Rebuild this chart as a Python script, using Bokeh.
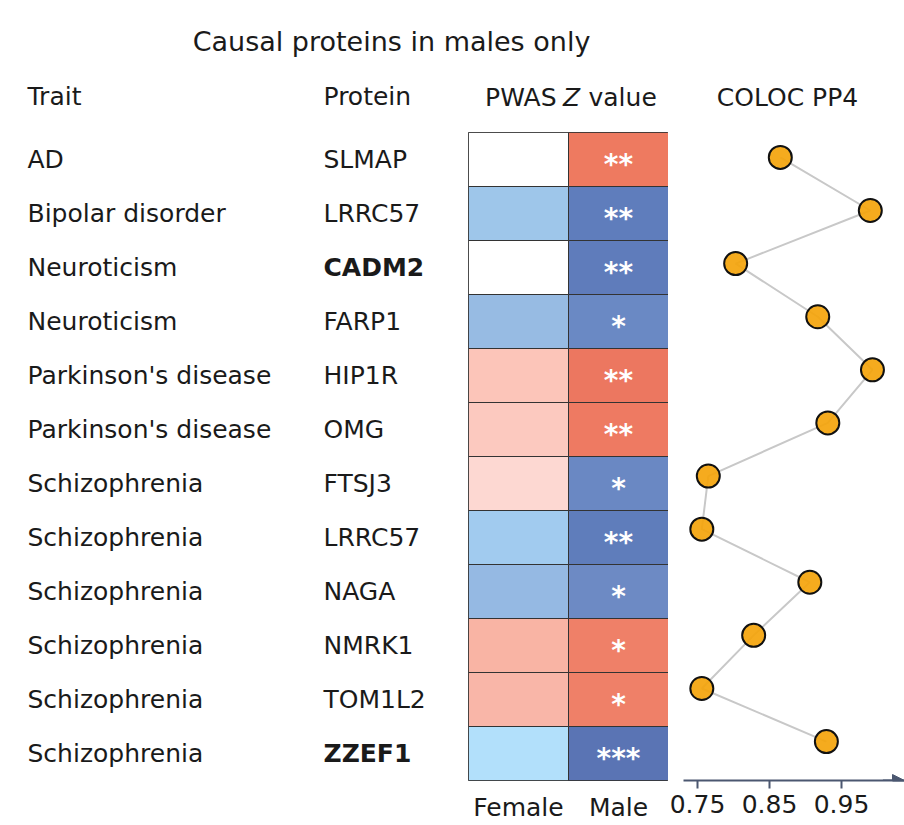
from bokeh.plotting import figure
from bokeh.layouts import row, column
from bokeh.models import ColumnDataSource, Range1d, FactorRange, FixedTicker, Arrow, NormalHead
from bokeh.core.properties import value
from bokeh.embed import file_html
from bokeh.resources import INLINE

# ---------------- data ----------------
title_text = "Causal proteins in males only"
traits = ["AD", "Bipolar disorder", "Neuroticism", "Neuroticism",
          "Parkinson's disease", "Parkinson's disease", "Schizophrenia",
          "Schizophrenia", "Schizophrenia", "Schizophrenia", "Schizophrenia",
          "Schizophrenia"]
proteins = ["SLMAP", "LRRC57", "CADM2", "FARP1", "HIP1R", "OMG", "FTSJ3",
            "LRRC57", "NAGA", "NMRK1", "TOM1L2", "ZZEF1"]
bold_proteins = ["CADM2", "ZZEF1"]
sexes = ["Female", "Male"]
female_colors = ["#ffffff", "#9ec6ea", "#ffffff", "#97bbe3", "#fcc5b9",
                 "#fcc9bf", "#fdd8d2", "#a1cbef", "#95b9e3", "#f9b4a4",
                 "#f9b6a8", "#b2e0fb"]
male_colors = ["#ee7a60", "#5f7dbc", "#5f7cbb", "#6a89c4", "#ec7760",
               "#ee7a62", "#6a88c3", "#5f7dbb", "#6d8ac4", "#ef8068",
               "#ef8068", "#5a74b4"]
male_stars = ["**", "**", "**", "*", "**", "**", "*", "**", "*", "*", "*", "***"]
pp4 = [0.865, 0.990, 0.803, 0.917, 0.993, 0.931, 0.765, 0.756, 0.906,
       0.828, 0.756, 0.929]
pp4_ticks = [0.75, 0.85, 0.95]

FONT = "DejaVu Sans"
FS = "25px"
TXT = "#1a1a1a"
AX = "#4b5770"

n = len(traits)
idx = list(range(n))


def base(p):
    p.grid.visible = False
    p.background_fill_color = "white"
    p.border_fill_color = "white"
    return p


# ---------------- header figure ----------------
top = figure(width=904, height=132, x_range=Range1d(0, 904), y_range=Range1d(132, 0),
             output_backend="svg", toolbar_location=None, min_border=0)
base(top)
top.axis.visible = False
top.outline_line_color = None
top.text(x=[391], y=[41], text=[title_text], text_align="center", text_baseline="middle",
         text_font=value(FONT), text_font_size="27px", text_color=TXT)
top.text(x=[27, 323], y=[96, 96], text=["Trait", "Protein"], text_align="left",
         text_baseline="middle", text_font=value(FONT), text_font_size=FS, text_color=TXT)
top.text(x=[556], y=[97], text=["PWAS"], text_align="right", text_baseline="middle",
         text_font=value(FONT), text_font_size=FS, text_color=TXT)
top.text(x=[571], y=[97], text=["Z"], text_align="center", text_baseline="middle",
         text_font=value(FONT), text_font_size=FS, text_font_style="italic", text_color=TXT)
top.text(x=[588], y=[97], text=["value"], text_align="left", text_baseline="middle",
         text_font=value(FONT), text_font_size=FS, text_color=TXT)
top.text(x=[787], y=[97], text=["COLOC PP4"], text_align="center", text_baseline="middle",
         text_font=value(FONT), text_font_size=FS, text_color=TXT)

# ---------------- labels figure ----------------
ROW_H = 692
BOT = 42
lab = figure(width=468, height=ROW_H, x_range=Range1d(0, 468), y_range=Range1d(n - 0.5, -0.5),
             output_backend="svg", toolbar_location=None,
             min_border_left=0, min_border_right=0, min_border_top=0, min_border_bottom=BOT)
base(lab)
lab.axis.visible = False
lab.outline_line_color = None
lab_src = ColumnDataSource(dict(
    y=idx, trait=traits, protein=proteins,
    style=["bold" if pr in bold_proteins else "normal" for pr in proteins]))
lab.text(x=27, y="y", text="trait", source=lab_src, text_align="left", text_baseline="middle",
         text_font=value(FONT), text_font_size=FS, text_color=TXT)
lab.text(x=323, y="y", text="protein", source=lab_src, text_align="left", text_baseline="middle",
         text_font=value(FONT), text_font_size=FS, text_font_style="style", text_color=TXT)

# ---------------- heatmap figure ----------------
heat = figure(width=200, height=ROW_H, x_range=FactorRange(*sexes), y_range=Range1d(n - 0.5, -0.5),
              output_backend="svg", toolbar_location=None,
              min_border_left=0, min_border_right=0, min_border_top=0, min_border_bottom=BOT)
base(heat)
heat_src = ColumnDataSource(dict(
    x=[sexes[0]] * n + [sexes[1]] * n,
    y=idx + idx,
    color=female_colors + male_colors))
heat.rect(x="x", y="y", width=1, height=1, source=heat_src, fill_color="color",
          line_color="#333333", line_width=1)
star_src = ColumnDataSource(dict(x=[sexes[1]] * n, y=idx, t=male_stars))
heat.text(x="x", y="y", text="t", source=star_src, text_align="center", text_baseline="middle",
          y_offset=5, text_font=value(FONT), text_font_size="28px", text_font_style="bold",
          text_color="white")
heat.outline_line_color = "#333333"
heat.yaxis.visible = False
heat.xaxis.axis_line_color = None
heat.xaxis.major_tick_line_color = None
heat.xaxis.minor_tick_line_color = None
heat.xaxis.major_label_text_font = FONT
heat.xaxis.major_label_text_font_size = FS
heat.xaxis.major_label_text_color = TXT
heat.xaxis.major_label_text_line_height = 0.8
heat.xaxis.major_label_standoff = 6

# ---------------- COLOC dot figure ----------------
x0 = 0.75 - 14 / 720
x1 = x0 + 221 / 720
ytop = -0.469
ybot = 11.733
dots = figure(width=236, height=ROW_H, x_range=Range1d(x0, x1), y_range=Range1d(ybot, ytop),
              output_backend="svg", toolbar_location=None,
              min_border_left=15, min_border_right=0, min_border_top=0, min_border_bottom=BOT)
base(dots)
dots.outline_line_color = None
dots.yaxis.visible = False
dot_src = ColumnDataSource(dict(x=pp4, y=idx))
dots.line(x="x", y="y", source=dot_src, line_color="#c8c8c8", line_width=2)
dots.scatter(x="x", y="y", source=dot_src, size=23, fill_color="#f4a40b", fill_alpha=0.92,
             line_color="#111111", line_width=2)
dots.xaxis.ticker = FixedTicker(ticks=pp4_ticks)
dots.xaxis.minor_tick_line_color = None
dots.xaxis.major_tick_in = 0
dots.xaxis.major_tick_out = 8
dots.xaxis.major_tick_line_color = AX
dots.xaxis.major_tick_line_width = 2
dots.xaxis.axis_line_color = AX
dots.xaxis.axis_line_width = 2
dots.xaxis.major_label_text_font = FONT
dots.xaxis.major_label_text_font_size = FS
dots.xaxis.major_label_text_color = TXT
dots.xaxis.major_label_text_line_height = 0.8
dots.xaxis.major_label_standoff = 6
dots.add_layout(Arrow(end=NormalHead(size=12, fill_color=AX, line_color=AX),
                      x_start=x1 - 0.03, y_start=ybot, x_end=x1, y_end=ybot,
                      line_color=AX, line_width=2))

layout = column(top, row(lab, heat, dots))
open("out.html", "w").write(file_html(layout, INLINE))
